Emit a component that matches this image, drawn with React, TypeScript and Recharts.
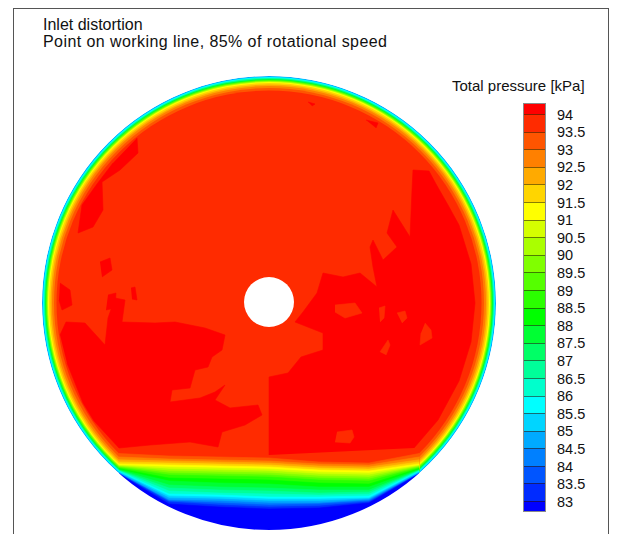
import React from 'react';
import { ScatterChart, Scatter, XAxis, YAxis, ZAxis } from 'recharts';

const titleLines = ['Inlet distortion', 'Point on working line, 85% of rotational speed'];
const legendTitle = 'Total pressure [kPa]';

// contour levels in kPa, top of the colour bar first
const levels = [94, 93.5, 93, 92.5, 92, 91.5, 91, 90.5, 90, 89.5, 89, 88.5, 88, 87.5, 87, 86.5, 86, 85.5, 85, 84.5, 84, 83.5, 83];

// one colour per band: "> 94" first, "< 83" last
const bandColors = [
  '#ff0000', '#ff2b00', '#ff5500', '#ff8000', '#ffaa00', '#ffd500', '#ffff00', '#d5ff00',
  '#aaff00', '#80ff00', '#55ff00', '#2bff00', '#00ff00', '#00ff33', '#00ff66', '#00ff99',
  '#00ffcc', '#00ffff', '#00d5ff', '#00aaff', '#0080ff', '#0055ff', '#002bff', '#0000ff',
];

// band just below a level
const bandBelow = (level: number) => 1 + Math.round((94 - level) * 2);

// duct geometry in mm, origin on the duct axis
const ductRadius = 227;
const hub = { x: 0, y: 1, r: 25 };

// wall boundary layer: ring outer radius (mm) and band index inside it
const wallRings = [
  { r: 227, band: 19 },
  { r: 226, band: 17 },
  { r: 225, band: 15 },
  { r: 224, band: 13 },
  { r: 223, band: 10 },
  { r: 222, band: 8 },
  { r: 221, band: 6 },
  { r: 220, band: 5 },
  { r: 218.5, band: 4 },
  { r: 217, band: 3 },
  { r: 215, band: 2 },
  { r: 212.5, band: 1 },
];

// distorted sector at the bottom: isoline heights (mm) at these stations
const bottomX = [-150, -100, -50, 0, 50, 100, 150];
const bottomIsolines = [
  { level: 93.5, y: [-150.5, -153, -154, -155, -159, -160, -150.5] },
  { level: 93, y: [-154, -156, -157, -158, -161, -162, -154] },
  { level: 92.5, y: [-156.8, -158, -159, -160, -163, -164, -156.8] },
  { level: 92, y: [-158.9, -160, -161, -162, -165, -166, -158.9] },
  { level: 91.5, y: [-160.9, -162, -163, -164, -167, -168, -160.9] },
  { level: 91, y: [-162.3, -164, -165, -166, -169, -170, -162.3] },
  { level: 90.5, y: [-163, -166, -167, -168, -171, -172, -163] },
  { level: 90, y: [-163.6, -168, -169, -170, -173, -174, -163.6] },
  { level: 89.5, y: [-164.3, -170, -171, -172, -175, -176, -164.3] },
  { level: 89, y: [-165, -172, -173, -174, -177, -178, -165] },
  { level: 88.5, y: [-165.7, -175, -176, -177, -180, -181, -165.7] },
  { level: 88, y: [-166.4, -178, -180, -181, -184, -184, -166.4] },
  { level: 87.5, y: [-167, -182, -184, -185, -187, -187, -167] },
  { level: 87, y: [-167.5, -185, -187, -188, -190, -189, -167.5] },
  { level: 86.5, y: [-167.8, -188, -190, -191, -192, -191, -167.8] },
  { level: 86, y: [-168.4, -191, -192, -194, -194, -193, -168.4] },
  { level: 85.5, y: [-169, -193, -194, -196, -196, -195, -169] },
  { level: 85, y: [-169.6, -195, -196, -198, -198, -196, -169.6] },
  { level: 84.5, y: [-170.4, -197, -198, -200, -200, -197, -170.4] },
  { level: 84, y: [-170.6, -198, -200, -202, -201, -198, -170.6] },
  { level: 83.5, y: [-170.8, -199, -202, -204, -203, -199, -170.8] },
  { level: 83, y: [-171, -201, -204, -206, -205, -200, -171] },
];

// regions above 94 kPa (outline points in mm)
const highPatches = [
  [[0, -152], [0, -74], [19, -70], [32, -54], [54, -47], [54, -30], [26, -19], [34, -9], [48, 10], [54, 30],
   [74, 26], [91, 30], [108, 16], [104, 36], [101, 56], [104, 63], [114, 43], [128, 56], [118, 70], [124, 93],
   [141, 66], [143, 113], [144, 133], [160, 132], [167, 119], [179, 98], [190, 78], [202, 39], [206, 0],
   [202, -39], [190, -78], [169, -117], [145, -145]],
  [[-209, -32], [-203, -19], [-184, -20], [-164, -42], [-161, -15], [-154, 5], [-144, 3], [-147, -19],
   [-114, -20], [-94, -19], [-64, -25], [-44, -32], [-47, -47], [-57, -54], [-61, -64], [-74, -67], [-79, -85],
   [-97, -87], [-99, -99], [-69, -95], [-54, -89], [-44, -82], [-54, -97], [-39, -105], [-11, -102], [-7, -112],
   [-24, -122], [-47, -129], [-51, -144], [-79, -139], [-119, -142], [-150, -145], [-175, -118], [-186, -100],
   [-202, -60]],
  [[-132, 165], [-131, 150], [-149, 133], [-167, 121], [-166, 93], [-176, 76], [-191, 70], [-187, 98],
   [-172, 119], [-156, 140]],
  [[-169, 41], [-159, 45], [-157, 33], [-167, 26]],
  [[-209, 20], [-199, 13], [-197, -2], [-207, -7], [-210, 3]],
  [[-161, 8], [-153, 10], [-154, -5], [-163, -7]],
  [[-138, 15], [-134, 16], [-132, 3], [-137, 4]],
  [[97, 183], [109, 180], [107, 175]],
  [[39, 201], [46, 199], [43, 197]],
];

// 93.5-94 kPa islands inside the high regions
const lowIslands = [
  [[66, -2], [86, 0], [93, -10], [76, -15], [66, -9]],
  [[110, -5], [116, -3], [115, -15], [111, -19]],
  [[128, -10], [136, -8], [138, -15], [133, -20]],
  [[156, -20], [162, -27], [163, -35], [151, -42], [152, -30]],
  [[68, -129], [83, -127], [85, -134], [81, -140], [66, -139]],
  [[111, -49], [119, -37], [121, -42], [117, -52]],
];

const FONT = '"Liberation Sans", Arial, Helvetica, sans-serif';
const EXTENT = 240;

const toPts = (poly: number[][]) => poly.map(([x, y]) => ({ x, y }));

const NoDot = () => null;

const RingShape = (props: any) => {
  const { cx, cy, size, payload } = props;
  const r = Math.sqrt(size / Math.PI);
  return <circle cx={cx} cy={cy} r={r} fill={payload.fill} />;
};

const MaskShape = (props: any) => {
  const { cx, cy, size } = props;
  const r = Math.sqrt(size / Math.PI);
  return <circle cx={cx} cy={cy} r={r + 200} fill="none" stroke="#ffffff" strokeWidth={400} />;
};

const wallData = wallRings.map((w) => ({ x: 0, y: 0, r: w.r, fill: bandColors[w.band] }));

// each isoline closed downwards between the first and last station
const bandPolys = bottomIsolines.map((iso) => ({
  color: bandColors[bandBelow(iso.level)],
  pts: [
    ...bottomX.map((x, i) => ({ x, y: iso.y[i] })),
    { x: bottomX[bottomX.length - 1], y: -EXTENT },
    { x: bottomX[0], y: -EXTENT },
  ],
}));

const polyScatter = (key: string, pts: any[], color: string) => (
  <Scatter
    key={key}
    data={pts}
    shape={NoDot}
    line={{ fill: color, stroke: color, strokeWidth: 0.6 }}
    lineType="joint"
    isAnimationActive={false}
  />
);

const Legend = () => {
  const boxH = 17.6;
  const edgeH = 10;
  return (
    <div style={{ position: 'absolute', left: 0, top: 0, fontFamily: FONT, color: '#111' }}>
      <div style={{ position: 'absolute', left: 452, top: 78, fontSize: 15, lineHeight: '16px', whiteSpace: 'nowrap' }}>
        {legendTitle}
      </div>
      <div
        style={{
          position: 'absolute', left: 523, top: 103, width: 23, boxSizing: 'border-box',
          border: '1px solid #8a8a8a', display: 'flex', flexDirection: 'column',
        }}
      >
        {bandColors.map((c, i) => (
          <div
            key={c}
            style={{
              height: i === 0 || i === bandColors.length - 1 ? edgeH : boxH,
              background: c,
              boxSizing: 'border-box',
              borderTop: i === 0 ? 'none' : '1px solid rgba(40,20,0,0.55)',
            }}
          />
        ))}
      </div>
      {levels.map((lv, k) => (
        <div
          key={lv}
          style={{
            position: 'absolute', left: 557, top: 103 + edgeH + boxH * k - 6.5,
            fontSize: 14.5, lineHeight: '16px', whiteSpace: 'nowrap',
          }}
        >
          {lv}
        </div>
      ))}
    </div>
  );
};

export default function App() {
  return (
    <div style={{ position: 'absolute', left: 0, top: 0, width: 617, height: 534, overflow: 'hidden', background: '#fff' }}>
      <div style={{ position: 'absolute', left: 29, top: 63 }}>
        <ScatterChart width={480} height={480} margin={{ top: 0, right: 0, bottom: 0, left: 0 }}>
          <XAxis type="number" dataKey="x" domain={[-EXTENT, EXTENT]} hide allowDataOverflow />
          <YAxis type="number" dataKey="y" domain={[-EXTENT, EXTENT]} hide allowDataOverflow />
          <ZAxis
            zAxisId="disc"
            type="number"
            dataKey={(d: any) => d.r * d.r}
            domain={[0, EXTENT * EXTENT]}
            range={[0, Math.PI * EXTENT * EXTENT]}
          />
          <Scatter zAxisId="disc" data={wallData} shape={RingShape} isAnimationActive={false} />
          {highPatches.map((p, i) => polyScatter(`hi${i}`, toPts(p), bandColors[0]))}
          {lowIslands.map((p, i) => polyScatter(`lo${i}`, toPts(p), bandColors[1]))}
          {bandPolys.map((b, i) => polyScatter(`band${i}`, b.pts, b.color))}
          <Scatter
            zAxisId="disc"
            data={[{ x: 0, y: 0, r: ductRadius }]}
            shape={MaskShape}
            isAnimationActive={false}
          />
          <Scatter
            zAxisId="disc"
            data={[{ x: hub.x, y: hub.y, r: hub.r, fill: '#ffffff' }]}
            shape={RingShape}
            isAnimationActive={false}
          />
        </ScatterChart>
      </div>
      <div
        style={{
          position: 'absolute', left: 13, top: 8, width: 596, height: 600, boxSizing: 'border-box',
          borderTop: '1.5px solid #555', borderLeft: '1.5px solid #555', borderRight: '1.5px solid #555',
        }}
      />
      <div style={{ position: 'absolute', left: 43, top: 16, fontFamily: FONT, fontSize: 16, lineHeight: '17px', color: '#111' }}>
        {titleLines.map((t, i) => (
          <div key={t} style={{ whiteSpace: 'nowrap', letterSpacing: i === 1 ? 0.43 : 0 }}>{t}</div>
        ))}
      </div>
      <Legend />
    </div>
  );
}
